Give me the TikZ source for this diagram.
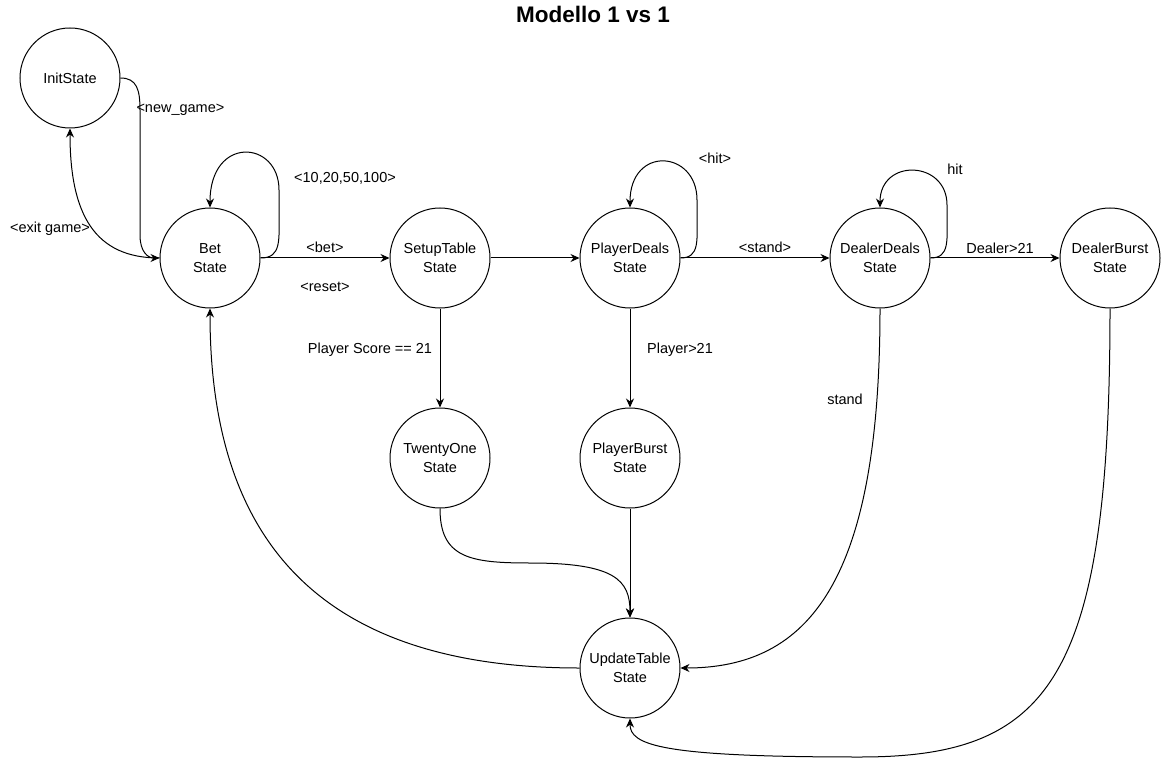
\documentclass[tikz,border=0pt]{standalone}
\usepackage{fontspec}
\setmainfont{Liberation Sans}
\usetikzlibrary{arrows.meta}

\tikzset{
  state/.style={draw, circle, minimum size=100pt, inner sep=0pt, align=center, font=\fontsize{14.5}{18.5}\selectfont},
  lbl/.style={font=\fontsize{14.5}{18}\selectfont, inner sep=1pt},
  arr/.style={-{Stealth[length=9pt,width=8pt]}}
}

\begin{document}
\begin{tikzpicture}[x=1pt,y=-1pt,line width=1pt]
  \useasboundingbox (0,0) rectangle (1161,759);
  \node[font=\fontsize{22.5}{26}\selectfont\bfseries] (title) at (593,14) {Modello 1 vs 1};
  % stati
  \node[state] (init) at (70,78) {InitState};
  \node[state] (bet) at (210,258) {Bet\\State};
  \node[state] (setup) at (440,258) {SetupTable\\State};
  \node[state] (pdeals) at (630,258) {PlayerDeals\\State};
  \node[state] (ddeals) at (880,258) {DealerDeals\\State};
  \node[state] (dburst) at (1110,258) {DealerBurst\\State};
  \node[state] (twone) at (440,458) {TwentyOne\\State};
  \node[state] (pburst) at (630,458) {PlayerBurst\\State};
  \node[state] (update) at (630,668) {UpdateTable\\State};
  % transizioni
  \draw[arr] (init.east) .. controls (137,78) and (140,90) .. (140,110) -- (140,235) .. controls (140,252) and (148,258) .. (bet.west);
  \node[lbl, anchor=west] (newgame) at (135,110) {<new\_game>};
  \draw[arr, {Stealth[length=9pt,width=8pt]}-] (init.south) .. controls (70,215) and (95,258) .. (bet.west);
  \node[lbl] (exit) at (50,229) {<exit game>};
  \draw[arr] (bet.east) .. controls (282,258) and (279,240) .. (279,210) -- (279,190) .. controls (279,140) and (210,135) .. (bet.north);
  \node[lbl] (bets) at (345,178) {<10,20,50,100>};
  \draw[arr] (bet.east) -- (setup.west);
  \node[lbl] (betl) at (325,247) {<bet>};
  \node[lbl] (reset) at (325,287) {<reset>};
  \draw[arr] (setup.east) -- (pdeals.west);
  \draw[arr] (setup.south) -- (twone.north);
  \node[lbl] (score) at (370,350) {Player Score == 21};
  \draw[arr] (pdeals.east) .. controls (700,258) and (697,240) .. (697,215) -- (697,200) .. controls (697,150) and (630,145) .. (pdeals.north);
  \node[lbl] (hitp) at (715,158) {<hit>};
  \draw[arr] (pdeals.east) -- (ddeals.west);
  \node[lbl] (stand) at (765,247) {<stand>};
  \draw[arr] (pdeals.south) -- (pburst.north);
  \node[lbl] (pover) at (680,350) {Player>21};
  \draw[arr] (ddeals.east) .. controls (950,258) and (947,240) .. (947,215) -- (947,205) .. controls (947,160) and (880,158) .. (ddeals.north);
  \node[lbl] (hitd) at (955,169) {hit};
  \draw[arr] (ddeals.east) -- (dburst.west);
  \node[lbl] (dover) at (1000,248) {Dealer>21};
  \draw[arr] (ddeals.south) .. controls (880,580) and (810,668) .. (update.east);
  \node[lbl] (standd) at (845,399) {stand};
  \draw[arr] (twone.south) .. controls (440,558) and (470,563) .. (530,563) .. controls (615,563) and (630,580) .. (update.north);
  \draw[arr] (pburst.south) -- (update.north);
  \draw[arr] (dburst.south) .. controls (1110,680) and (1050,757) .. (860,757) .. controls (660,757) and (630,745) .. (update.south);
  \draw[arr] (update.west) .. controls (300,668) and (210,520) .. (bet.south);
\end{tikzpicture}
\end{document}
